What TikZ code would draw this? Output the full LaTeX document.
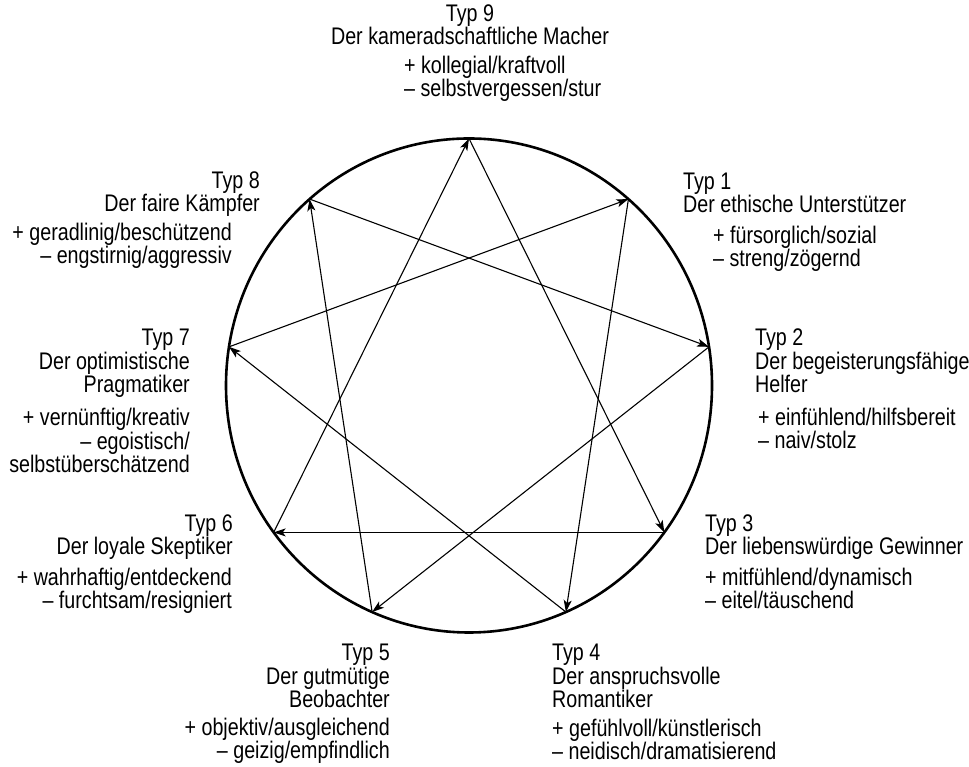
\documentclass[tikz,border=0pt]{standalone}
\usepackage{fontspec}
\setmainfont{Liberation Sans}[FakeStretch=0.82]
\usetikzlibrary{arrows.meta}

\tikzset{
  ring/.style={line width=2.6pt},
  link/.style={line width=1.1pt,-{Stealth[length=12pt,width=8pt,inset=3pt]}},
  lbl/.style={inner sep=0pt,font=\fontsize{24}{23.5}\selectfont},
  lblL/.style={lbl,align=left,anchor=base west},
  lblR/.style={lbl,align=right,anchor=base east},
  lblC/.style={lbl,align=center,anchor=base},
}

\begin{document}
\begin{tikzpicture}[x=1pt,y=1pt]
  \useasboundingbox (0,0) rectangle (969,767);

  %Kreis
  \coordinate (c) at (469,381.5);
  \draw[ring] (c) ellipse (243pt and 247pt);

  %Punkte auf dem Kreis
  \path (c) ++(90:243pt and 247pt) coordinate (p9);
  \path (c) ++(49:243pt and 247pt) coordinate (p1);
  \path (c) ++(9:243pt and 247pt) coordinate (p2);
  \path (c) ++(-36.5:243pt and 247pt) coordinate (p3);
  \path (c) ++(-66.5:243pt and 247pt) coordinate (p4);
  \path (c) ++(-113.5:243pt and 247pt) coordinate (p5);
  \path (c) ++(-143.5:243pt and 247pt) coordinate (p6);
  \path (c) ++(171:243pt and 247pt) coordinate (p7);
  \path (c) ++(131:243pt and 247pt) coordinate (p8);

  %Dreieck 9-3-6
  \draw[link] (p6) -- (p9);
  \draw[link] (p9) -- (p3);
  \draw[link] (p3) -- (p6);

  %Dreieck 1-4-7
  \draw[link] (p1) -- (p4);
  \draw[link] (p4) -- (p7);
  \draw[link] (p7) -- (p1);

  %Dreieck 2-5-8
  \draw[link] (p8) -- (p2);
  \draw[link] (p2) -- (p5);
  \draw[link] (p5) -- (p8);

  %Beschriftungen (Grundlinie der letzten Zeile)
  \node[lblC] (t9) at (470,722) {Typ 9\\Der kameradschaftliche Macher};
  \node[lblL] (t9b) at (404,670) {+ kollegial/kraftvoll\\– selbstvergessen/stur};

  \node[lblR] (t8) at (260,555) {Typ 8\\Der faire Kämpfer};
  \node[lblR] (t8b) at (232,503) {+ geradlinig/beschützend\\– engstirnig/aggressiv};

  \node[lblL] (t1) at (683,554) {Typ 1\\Der ethische Unterstützer};
  \node[lblL] (t1b) at (713,500) {+ fürsorglich/sozial\\– streng/zögernd};

  \node[lblL] (t2) at (755,374) {Typ 2\\Der begeisterungsfähige\\Helfer};
  \node[lblL] (t2b) at (758,318) {+ einfühlend/hilfsbereit\\– naiv/stolz};

  \node[lblR] (t7) at (190,374) {Typ 7\\Der optimistische\\Pragmatiker};
  \node[lblR] (t7b) at (190,294) {+ vernünftig/kreativ\\– egoistisch/\\selbstüberschätzend};

  \node[lblR] (t6) at (233,212) {Typ 6\\Der loyale Skeptiker};
  \node[lblR] (t6b) at (232,158) {+ wahrhaftig/entdeckend\\– furchtsam/resigniert};

  \node[lblL] (t3) at (705,212) {Typ 3\\Der liebenswürdige Gewinner};
  \node[lblL] (t3b) at (705,158) {+ mitfühlend/dynamisch\\– eitel/täuschend};

  \node[lblR] (t5) at (390,59) {Typ 5\\Der gutmütige\\Beobachter};
  \node[lblR] (t5b) at (390,8) {+ objektiv/ausgleichend\\– geizig/empfindlich};

  \node[lblL] (t4) at (552,59) {Typ 4\\Der anspruchsvolle\\Romantiker};
  \node[lblL] (t4b) at (552,7) {+ gefühlvoll/künstlerisch\\– neidisch/dramatisierend};

\end{tikzpicture}
\end{document}
